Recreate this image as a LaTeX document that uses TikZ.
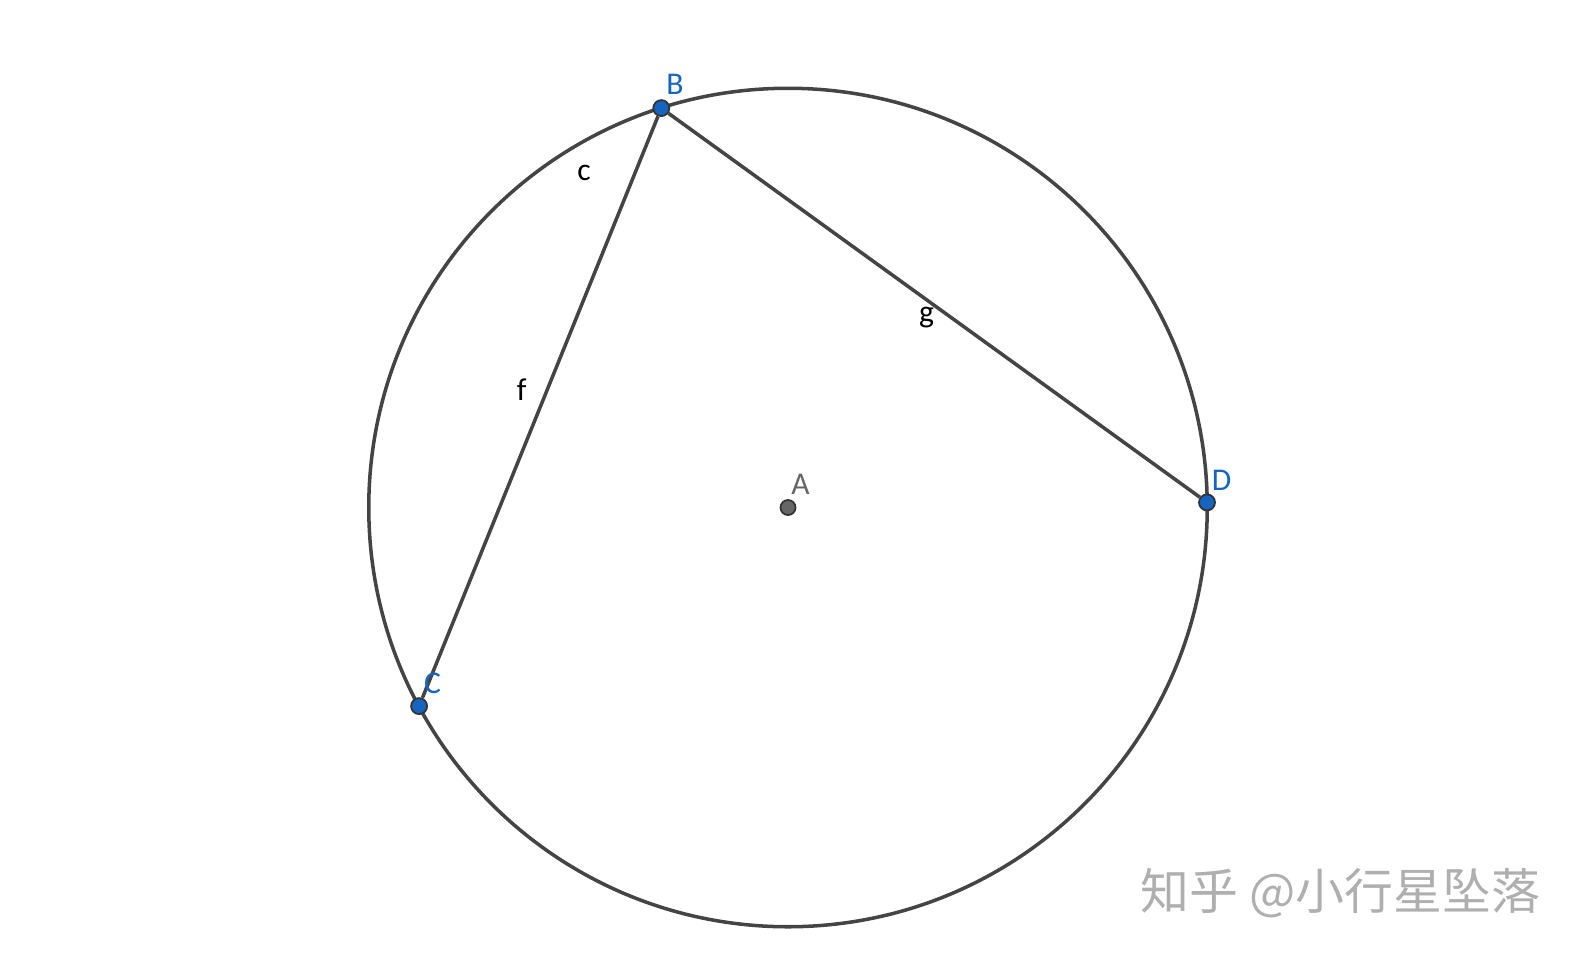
\documentclass[tikz,border=0pt]{standalone}
\usepackage{fontspec}
\setmainfont{Carlito}
\newfontfamily\cjk{Noto Sans CJK SC}
\usepackage{tikz}

\definecolor{ptblue}{RGB}{21,101,192}
\definecolor{ptgray}{RGB}{102,102,102}
\definecolor{linegray}{RGB}{68,68,68}
\definecolor{markgray}{RGB}{175,175,175}

\begin{document}
\begin{tikzpicture}[x=0.01cm,y=-0.01cm]

        \useasboundingbox (0,0) rectangle (1579,957);

        \draw[linegray, line width=1pt] (788,507.5) circle[radius=4.19cm];

        \begin{scope}[every node/.style={circle,draw=black!80,line width=0.5pt,inner sep=0pt,minimum size=0.16cm}]
          \node[fill=ptgray, minimum size=0.15cm] (A) at (788,507.5) {};
          \node[fill=ptblue] (B) at (661.3,108.1) {};
          \node[fill=ptblue] (C) at (419.1,706.1) {};
          \node[fill=ptblue] (D) at (1207,502.4) {};
        \end{scope}

        \begin{scope}[every edge/.style={draw,linegray,line width=1pt}]
          \path (B) edge (C);
          \path (B) edge (D);
        \end{scope}

        \begin{scope}[every node/.style={font=\fontsize{9}{10}\selectfont}]
          \node[ptgray] (lA) at (800.6,484) {A};
          \node[ptblue] (lB) at (675,84.6) {B};
          \node[ptblue] (lC) at (432.5,683.8) {C};
          \node[ptblue] (lD) at (1221.5,480) {D};
          \node (lc) at (584,173) {c};
          \node (lf) at (521.6,389.7) {f};
          \node (lg) at (926.5,318) {g};
        \end{scope}

        \node[markgray, inner sep=0pt, font=\cjk\fontsize{13.9}{14}\selectfont, anchor=east] (mark) at (1541,893) {知乎 @小行星坠落};

      \end{tikzpicture}
\end{document}
